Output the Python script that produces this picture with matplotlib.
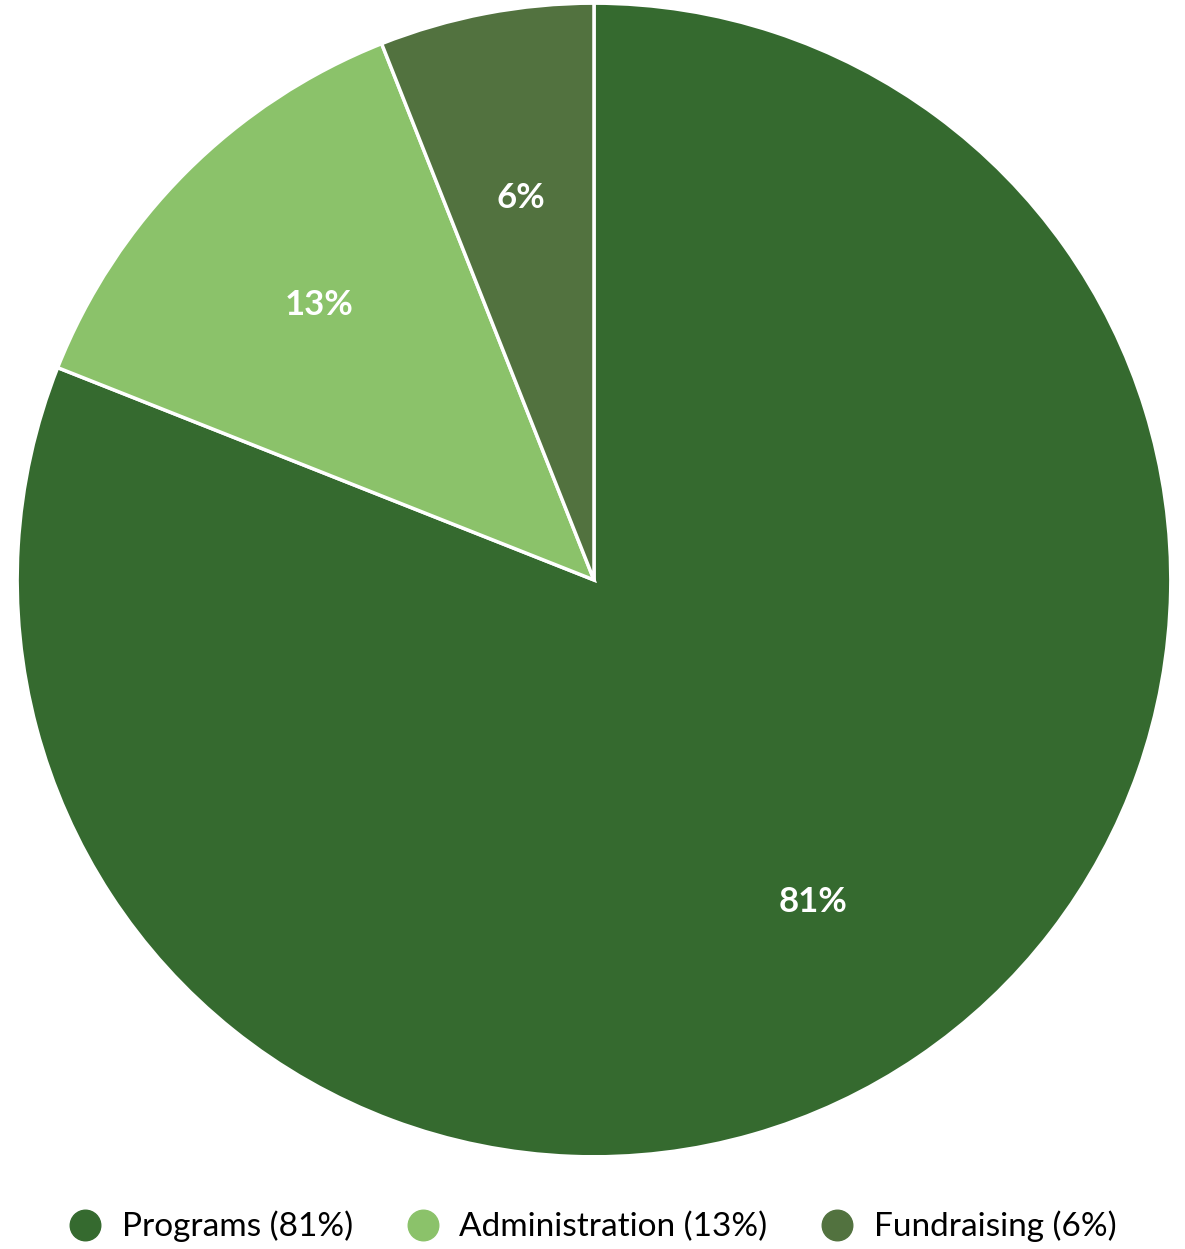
import matplotlib
matplotlib.use("Agg")
import matplotlib.pyplot as plt
from matplotlib.lines import Line2D

categories = ["Programs", "Administration", "Fundraising"]
values = [81, 13, 6]
colors = ["#356A2F", "#8BC26A", "#52723F"]

plt.rcParams['font.family'] = ['Lato', 'DejaVu Sans']
fig = plt.figure(figsize=(11.85, 12.49), dpi=100)
ax = fig.add_axes([0.0135, 0.0729, 0.9755, 0.9255])
wedges, texts, autotexts = ax.pie(values, colors=colors, startangle=90, counterclock=False,
       autopct=lambda p: f"{p:.0f}%", pctdistance=0.675,
       wedgeprops=dict(edgecolor="white", linewidth=2.5))
for t in autotexts:
    t.set_color("white"); t.set_fontsize(25); t.set_fontweight("bold")
ax.set_xlim(-1.002, 1.002)
ax.set_ylim(-1.002, 1.002)
ax.set_aspect("auto")
handles = [Line2D([], [], marker='o', linestyle='', markersize=22, markerfacecolor=c, markeredgecolor=c)
           for c in colors]
labels = [f"{c} ({v}%)" for c, v in zip(categories, values)]
fig.legend(handles, labels, loc="center", bbox_to_anchor=(0.5, 0.018), ncol=3, frameon=False,
           fontsize=24, handlelength=1.0, handletextpad=0.6, columnspacing=1.6, borderpad=0.1)
fig.savefig("out.png", dpi=100)
